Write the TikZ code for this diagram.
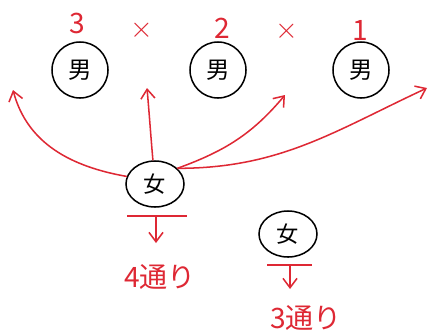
\documentclass[tikz,border=0pt]{standalone}
\usepackage{fontspec}
\newfontfamily\jpfont{Noto Sans CJK JP}
\usetikzlibrary{arrows.meta, shapes.geometric}
\definecolor{penred}{RGB}{222,40,52}
\begin{document}
\begin{tikzpicture}[x=0.03cm, y=-0.03cm, >={Straight Barb[length=8pt,width=12pt]},
    man/.style={draw, circle, line width=1.3pt, minimum size=1.68cm, inner sep=0pt, font=\jpfont\fontsize{20}{20}\selectfont},
    woman/.style={draw, ellipse, line width=1.3pt, minimum width=1.74cm, minimum height=1.38cm, inner sep=0pt, font=\jpfont\fontsize{19}{19}\selectfont},
    redline/.style={penred, line width=1.3pt},
    redtext/.style={penred, font=\jpfont\fontsize{24}{24}\selectfont}]

    \useasboundingbox (0,0) rectangle (430,333);

    % --- 1. 男の席 ---
    \def\yMen{70}
    \node[man] (M1) at (80,  \yMen) {男};
    \node[man] (M2) at (218, \yMen) {男};
    \node[man] (M3) at (361, \yMen) {男};

    % 上の数と掛け算
    \node[redtext] (n3) at (77,  23) {3};
    \node[redtext] (x1) at (142, 30) {$\times$};
    \node[redtext] (n2) at (222, 28) {2};
    \node[redtext] (x2) at (287, 31) {$\times$};
    \node[redtext] (n1) at (360, 30) {1};

    % --- 2. 女（1人目）と矢印 ---
    \node[woman] (W1) at (155, 184) {女};

    \coordinate (A1) at (13,  90);
    \coordinate (A2) at (147, 88);
    \coordinate (A3) at (285, 95);
    \coordinate (A4) at (427, 88);

    \draw[redline, ->] (W1.165) to[out=170, in=-75] (A1);
    \draw[redline, ->] (W1.95)  to[out=95,  in=-85] (A2);
    \draw[redline, ->] (W1.35)  to[out=20,  in=-130] (A3);
    \draw[redline, ->] (W1.35)  to[out=0,   in=-155] (A4);

    % 下向きの矢印と「4通り」
    \coordinate (B1l) at (127, 216);
    \coordinate (B1r) at (187, 216);
    \coordinate (B1)  at (156, 216);
    \node[redtext] (c4) at (160, 277) {4通り};
    \draw[redline] (B1l) -- (B1r);
    \draw[redline, ->] (B1) -- ++(0, 27);

    % --- 3. 女（2人目）と「3通り」 ---
    \node[woman] (W2) at (288, 234) {女};

    \coordinate (B2l) at (267, 265);
    \coordinate (B2r) at (312, 265);
    \coordinate (B2)  at (290, 265);
    \node[redtext] (c3) at (306, 318) {3通り};
    \draw[redline] (B2l) -- (B2r);
    \draw[redline, ->] (B2) -- ++(0, 24);

  \end{tikzpicture}
\end{document}
